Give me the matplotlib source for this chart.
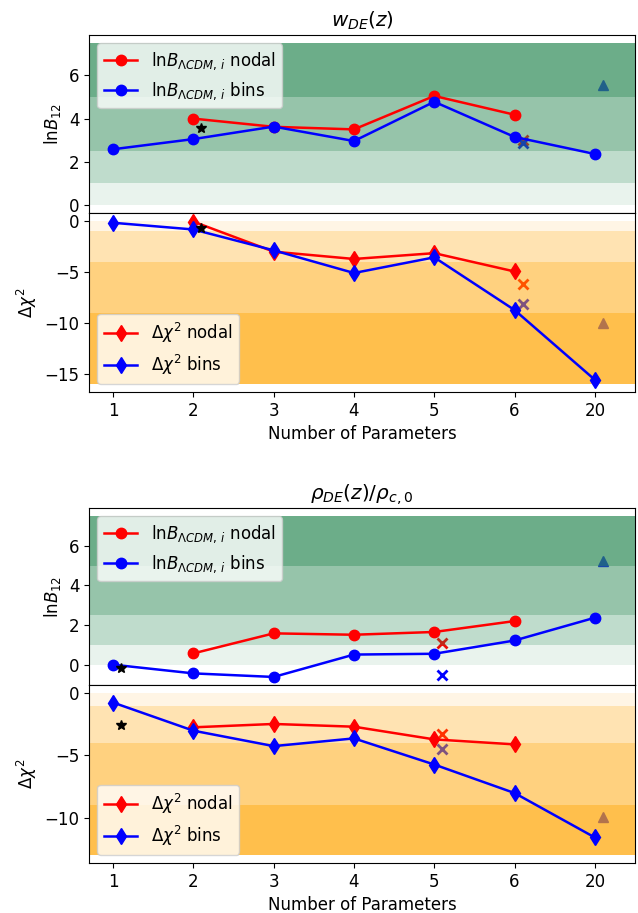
import numpy as np
import matplotlib.pyplot as plt

# numero de parametros (eje x categorico)
n_params = ['1', '2', '3', '4', '5', '6', '20']
xpos = np.arange(1, len(n_params) + 1)

# ---- w_DE(z) ----
w_lnB_nodal = [4.0, 3.62, 3.5, 5.05, 4.18]          # N = 2..6
w_lnB_bins = [2.58, 3.05, 3.63, 2.96, 4.78, 3.15, 2.36]
w_chi_nodal = [-0.05, -3.0, -3.72, -3.15, -4.95]     # N = 2..6
w_chi_bins = [-0.16, -0.82, -2.87, -5.1, -3.56, -8.74, -15.6]
w_star = (2.1, 3.57, -0.66)
w_cross_x = 6.1
w_cross_lnB = (2.99, 2.88)      # rojo, azul
w_cross_chi = (-6.2, -8.18)     # rojo, azul
w_tri = (7.1, 5.55, -10.0)
w_chi_floor = -16

# ---- rho_DE(z)/rho_c0 ----
r_lnB_nodal = [0.57, 1.58, 1.51, 1.65, 2.2]
r_lnB_bins = [0.0, -0.44, -0.62, 0.51, 0.55, 1.22, 2.37]
r_chi_nodal = [-2.75, -2.48, -2.7, -3.72, -4.12]
r_chi_bins = [-0.76, -3.02, -4.26, -3.64, -5.74, -8.03, -11.6]
r_star = (1.1, -0.15, -2.56)
r_cross_x = 5.1
r_cross_lnB = (1.08, -0.5)
r_cross_chi = (-3.32, -4.5)
r_tri = (7.1, 5.23, -9.97)
r_chi_floor = -13

# escala de Jeffreys
lnB_edges = [0, 1, 2.5, 5, 7.5]
alphas = [0.1, 0.3, 0.5, 0.7]

plt.rcParams['font.size'] = 12

W, H = 638, 913
fig = plt.figure(figsize=(W / 100, H / 100), dpi=100)


def box(top, bottom):
    return [89 / W, 1 - bottom / H, (635 - 89) / W, (bottom - top) / H]


def panel_lnB(ax, nodal, bins, star, cx, cross, tri, title):
    # marcadores extra por debajo de las bandas
    ax.plot(cx, cross[0], 'x', color='red', ms=7, mew=2, zorder=0.5)
    ax.plot(cx, cross[1], 'x', color='blue', ms=7, mew=2, zorder=0.5)
    ax.plot(tri[0], tri[1], '^', color='blue', ms=7, zorder=0.5)
    for i in range(4):
        ax.axhspan(lnB_edges[i], lnB_edges[i + 1], color='seagreen',
                   alpha=alphas[i], lw=0, zorder=1)
    ax.plot(xpos[1:6], nodal, 'o-', color='red', ms=7.5, lw=1.8,
            label=r'$\mathrm{ln}B_{\Lambda CDM,\, i}$ nodal', zorder=3)
    ax.plot(xpos, bins, 'o-', color='blue', ms=7.5, lw=1.8,
            label=r'$\mathrm{ln}B_{\Lambda CDM,\, i}$ bins', zorder=3)
    ax.plot(star[0], star[1], '*', color='k', ms=7, zorder=4)
    ax.set_ylabel(r'$\mathrm{ln}B_{12}$')
    ax.set_title(title)
    ax.set_yticks([0, 2, 4, 6])
    ax.set_xlim(0.7, 7.5)
    ax.set_xticks(xpos)
    ax.set_xticklabels([])
    ax.legend(loc='upper left', fontsize=12)


def panel_chi(ax, nodal, bins, star, cx, cross, tri, floor):
    ax.plot(cx, cross[0], 'x', color='red', ms=7, mew=2, zorder=0.5)
    ax.plot(cx, cross[1], 'x', color='blue', ms=7, mew=2, zorder=0.5)
    ax.plot(tri[0], tri[2], '^', color='blue', ms=7, zorder=0.5)
    chi_edges = [0, -1, -4, -9, floor]
    for i in range(4):
        ax.axhspan(chi_edges[i + 1], chi_edges[i], color='orange',
                   alpha=alphas[i], lw=0, zorder=1)
    ax.plot(xpos[1:6], nodal, 'd-', color='red', ms=8.5, lw=1.8,
            label=r'$\Delta\chi^2$ nodal', zorder=3)
    ax.plot(xpos, bins, 'd-', color='blue', ms=8.5, lw=1.8,
            label=r'$\Delta\chi^2$ bins', zorder=3)
    ax.plot(star[0], star[2], '*', color='k', ms=7, zorder=4)
    ax.set_ylabel(r'$\Delta\chi^2$')
    ax.set_xlim(0.7, 7.5)
    ax.set_xticks(xpos)
    ax.set_xticklabels(n_params)
    ax.set_xlabel('Number of Parameters')
    ax.legend(loc='lower left', fontsize=12)


ax1 = fig.add_axes(box(35, 213))
ax2 = fig.add_axes(box(213, 392))
ax3 = fig.add_axes(box(508, 685))
ax4 = fig.add_axes(box(685, 863))

panel_lnB(ax1, w_lnB_nodal, w_lnB_bins, w_star, w_cross_x, w_cross_lnB,
          w_tri, r'$w_{DE}(z)$')
panel_chi(ax2, w_chi_nodal, w_chi_bins, w_star, w_cross_x, w_cross_chi,
          w_tri, w_chi_floor)
panel_lnB(ax3, r_lnB_nodal, r_lnB_bins, r_star, r_cross_x, r_cross_lnB,
          r_tri, r'$\rho_{DE}(z)/\rho_{c,0}$')
panel_chi(ax4, r_chi_nodal, r_chi_bins, r_star, r_cross_x, r_cross_chi,
          r_tri, r_chi_floor)
ax2.set_yticks([0, -5, -10, -15])
ax4.set_yticks([0, -5, -10])

fig.savefig('out.png', dpi=100)
